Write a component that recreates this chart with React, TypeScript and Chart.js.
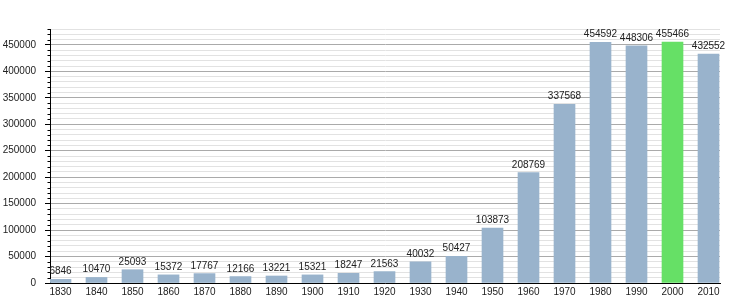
import React, { useEffect, useRef } from "react";
import { Chart, registerables } from "chart.js";

Chart.register(...registerables);

const years: number[] = [1830, 1840, 1850, 1860, 1870, 1880, 1890, 1900, 1910, 1920, 1930, 1940, 1950, 1960, 1970, 1980, 1990, 2000, 2010];
const population: number[] = [6846, 10470, 25093, 15372, 17767, 12166, 13221, 15321, 18247, 21563, 40032, 50427, 103873, 208769, 337568, 454592, 448306, 455466, 432552];
const highlightYear = 2000;

const FONT = "'Liberation Sans', Arial, sans-serif";
const BAR_BLUE = "#99b3cc";
const BAR_GREEN = "#66e066";

const minorTicksPlugin = {
  id: "minorTicks",
  afterDraw(chart: any) {
    const y = chart.scales.y;
    const ctx = chart.ctx;
    const left = chart.chartArea.left;
    ctx.save();
    ctx.strokeStyle = "#000";
    ctx.lineWidth = 1;
    for (let v = 0; v <= y.max; v += 10000) {
      if (v % 50000 === 0) continue;
      const py = Math.round(y.getPixelForValue(v)) + 0.5;
      ctx.beginPath();
      ctx.moveTo(left - 2.5, py);
      ctx.lineTo(left, py);
      ctx.stroke();
    }
    ctx.restore();
  },
};

const valueLabelsPlugin = {
  id: "valueLabels",
  afterDatasetsDraw(chart: any) {
    const ctx = chart.ctx;
    const meta = chart.getDatasetMeta(0);
    ctx.save();
    ctx.font = `10px ${FONT}`;
    ctx.fillStyle = "#222";
    ctx.textAlign = "center";
    ctx.textBaseline = "alphabetic";
    meta.data.forEach((bar: any, i: number) => {
      ctx.fillText(String(population[i]), bar.x, bar.y - 5);
    });
    ctx.restore();
  },
};

export default function App() {
  const ref = useRef<HTMLCanvasElement | null>(null);

  useEffect(() => {
    if (!ref.current) return;
    const chart = new Chart(ref.current, {
      type: "bar",
      data: {
        datasets: [
          {
            data: years.map((yr, i) => ({ x: yr, y: population[i] })),
            backgroundColor: years.map((yr) => (yr === highlightYear ? BAR_GREEN : BAR_BLUE)),
            borderWidth: 0,
            barThickness: 21,
          },
        ],
      },
      options: {
        animation: false,
        responsive: false,
        devicePixelRatio: 1,
        layout: { padding: { left: 0, top: 29, right: 30, bottom: 0 } },
        plugins: {
          legend: { display: false },
          tooltip: { enabled: false },
          title: { display: false },
        },
        scales: {
          x: {
            type: "linear",
            min: 1830 - 10.5 / 3.6,
            max: 1830 - 10.5 / 3.6 + 670 / 3.6,
            offset: false,
            grid: { display: false, drawTicks: false },
            border: { display: true, color: "#000", width: 1 },
            afterBuildTicks: (axis: any) => {
              axis.ticks = years.map((v) => ({ value: v }));
            },
            afterFit: (axis: any) => {
              axis.height = 17;
            },
            ticks: {
              autoSkip: false,
              maxRotation: 0,
              padding: 3,
              color: "#222",
              font: { family: FONT, size: 10 },
              callback: (v: any) => String(v),
            },
          },
          y: {
            min: 0,
            max: 480000,
            afterFit: (axis: any) => {
              axis.width = 50;
            },
            border: { display: true, color: "#000", width: 1 },
            grid: {
              drawTicks: true,
              tickLength: 5,
              color: (c: any) => (c.tick && c.tick.value % 50000 === 0 ? "#aaaaaa" : "#e2e2e2"),
              tickColor: (c: any) => (c.tick && c.tick.value % 50000 === 0 ? "#000" : "rgba(0,0,0,0)"),
            },
            ticks: {
              stepSize: 10000,
              autoSkip: false,
              padding: 9,
              color: "#222",
              font: { family: FONT, size: 10 },
              callback: (v: any) => (Number(v) % 50000 === 0 ? String(v) : ""),
            },
          },
        },
      },
      plugins: [minorTicksPlugin, valueLabelsPlugin],
    } as any);
    return () => chart.destroy();
  }, []);

  return (
    <div style={{ position: "fixed", left: 0, top: 0, width: 750, height: 300, background: "#fff" }}>
      <canvas ref={ref} width={750} height={300} style={{ width: 750, height: 300, display: "block" }} />
    </div>
  );
}
